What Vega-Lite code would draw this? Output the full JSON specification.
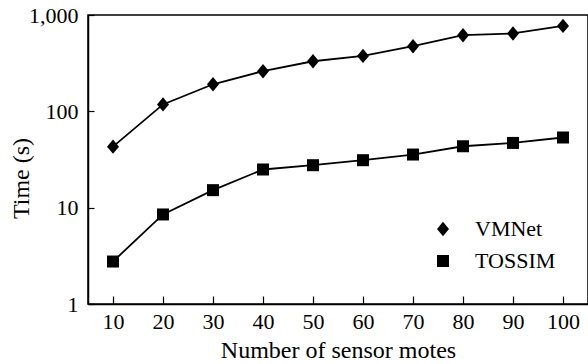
{
  "$schema": "https://vega.github.io/schema/vega-lite/v6.json",
  "width": 500,
  "height": 289,
  "autosize": {"type": "none"},
  "padding": {"left": 88, "top": 15, "right": 0, "bottom": 60},
  "background": "white",
  "config": {
    "font": "Liberation Serif",
    "view": {"stroke": "black", "strokeWidth": 1.5},
    "axis": {"labelFont": "Liberation Serif", "titleFont": "Liberation Serif", "labelColor": "black", "titleColor": "black", "domainColor": "black", "tickColor": "black", "labelFontSize": 22, "titleFontSize": 24, "titleFontWeight": "normal", "grid": false, "domainWidth": 1.5, "tickWidth": 1.2}
  },
  "data": {
    "values": [
      {"motes": 10, "series": "VMNet", "time": 43},
      {"motes": 20, "series": "VMNet", "time": 118},
      {"motes": 30, "series": "VMNet", "time": 191},
      {"motes": 40, "series": "VMNet", "time": 261},
      {"motes": 50, "series": "VMNet", "time": 331},
      {"motes": 60, "series": "VMNet", "time": 376},
      {"motes": 70, "series": "VMNet", "time": 474},
      {"motes": 80, "series": "VMNet", "time": 617},
      {"motes": 90, "series": "VMNet", "time": 643},
      {"motes": 100, "series": "VMNet", "time": 771},
      {"motes": 10, "series": "TOSSIM", "time": 2.76},
      {"motes": 20, "series": "TOSSIM", "time": 8.5},
      {"motes": 30, "series": "TOSSIM", "time": 15.2},
      {"motes": 40, "series": "TOSSIM", "time": 24.9},
      {"motes": 50, "series": "TOSSIM", "time": 27.6},
      {"motes": 60, "series": "TOSSIM", "time": 31.1},
      {"motes": 70, "series": "TOSSIM", "time": 35.6},
      {"motes": 80, "series": "TOSSIM", "time": 43.4},
      {"motes": 90, "series": "TOSSIM", "time": 47},
      {"motes": 100, "series": "TOSSIM", "time": 53.5}
    ]
  },
  "encoding": {
    "x": {
      "field": "motes", "type": "ordinal", "sort": null,
      "scale": {"paddingInner": 0, "paddingOuter": 0},
      "axis": {"title": "Number of sensor motes", "labelAngle": 0, "bandPosition": 0, "tickSize": -8, "labelPadding": 15, "titlePadding": 6}
    },
    "y": {
      "field": "time", "type": "quantitative",
      "scale": {"type": "log", "domain": [1, 1000], "nice": false},
      "axis": {"title": "Time (s)", "values": [1, 10, 100, 1000], "format": ",", "tickSize": -6, "labelPadding": 16, "titleX": -55, "titleY": 163}
    }
  },
  "layer": [
    {
      "mark": {"type": "line", "color": "black", "strokeWidth": 1.8},
      "encoding": {"detail": {"field": "series"}}
    },
    {
      "mark": {"type": "point", "filled": true, "opacity": 1, "color": "black", "size": 144},
      "encoding": {
        "shape": {
          "field": "series", "type": "nominal",
          "scale": {"domain": ["VMNet", "TOSSIM"], "range": ["M0,-1.2L1,0L0,1.2L-1,0Z", "square"]},
          "legend": {
            "title": null, "orient": "none", "legendX": 344, "legendY": 203,
            "labelFont": "Liberation Serif", "labelFontSize": 22, "labelColor": "black",
            "symbolSize": 144, "labelOffset": 21, "rowPadding": 10, "padding": 0,
            "symbolFillColor": "black", "symbolOpacity": 1
          }
        }
      }
    }
  ]
}
